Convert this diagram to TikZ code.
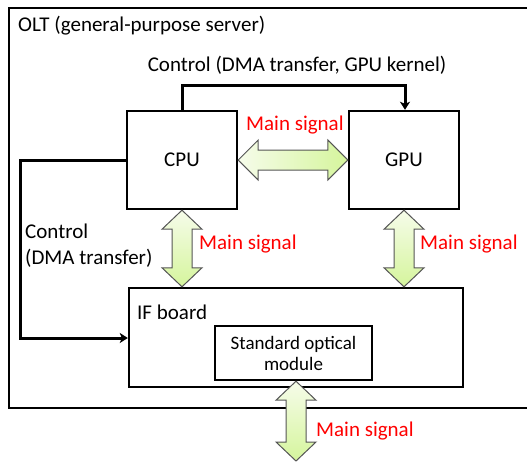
\documentclass[tikz,border=0pt]{standalone}
\usepackage{fontspec}
\setmainfont{Carlito}
\usetikzlibrary{arrows.meta,calc}
\definecolor{sigA}{HTML}{F6FCEA}
\definecolor{sigB}{HTML}{D5F59C}
\definecolor{sigline}{HTML}{555555}
\begin{document}
\begin{tikzpicture}[x=1pt,y=-1pt,
  box/.style={draw=black,line width=2.4pt,minimum width=110pt,minimum height=98pt,inner sep=0pt,font=\fontsize{21}{25}\selectfont},
  ctrl/.style={line width=3pt,-{Stealth[length=8pt,width=10pt,inset=2pt]}},
  sigh/.style={draw=sigline,line width=1pt,left color=sigA,right color=sigB},
  sigv/.style={draw=sigline,line width=1pt,top color=sigA,bottom color=sigB},
  lbl/.style={font=\fontsize{21}{25}\selectfont,inner sep=0pt},
  redlbl/.style={lbl,text=red,anchor=west}]
\useasboundingbox (0,0) rectangle (527,461);
% outer box
\draw[line width=2.4pt] (540,8) -- (9,8) -- (9,408) -- (540,408);
\node[lbl,anchor=west] (olt) at (18,26) {OLT (general-purpose server)};
% boxes
\node[box] (cpu) at (182,160) {CPU};
\node[box] (gpu) at (404,160) {GPU};
\node[draw=black,line width=2.4pt,minimum width=334pt,minimum height=99pt,inner sep=0pt] (ifb) at (296,337.5) {};
\node[lbl,anchor=west] (iflbl) at (137,312) {IF board};
\node[draw=black,line width=2.4pt,minimum width=157pt,minimum height=54pt,inner sep=0pt,align=center,font=\fontsize{19}{21}\selectfont] (mod) at (293.5,353) {Standard optical\\module};
% control arrows
\node[lbl] (ctl1) at (297,65) {Control (DMA transfer, GPU kernel)};
\draw[ctrl] (cpu.north) -- ++(0,-24) -| (gpu.north -| 405,0);
\node[lbl,anchor=west,align=left,font=\fontsize{21}{26}\selectfont] (ctl2) at (25,246) {Control\\(DMA transfer)};
\draw[ctrl] (cpu.west) -- (20,160) |- (ifb.west |- 0,338);
% signal arrows
\draw[sigh] (cpu.east) -- ++(20,-20) -- ++(0,10) -- ($(gpu.west)+(-20,-10)$) -- ++(0,-10) -- (gpu.west) -- ++(-20,20) -- ++(0,-10) -- ($(cpu.east)+(20,10)$) -- ++(0,10) -- cycle;
\node[redlbl] (m1) at (246,125) {Main signal};
\draw[sigv] (cpu.south) -- ++(20,19) -- ++(-10,0) -- ($(ifb.north -| cpu.south)+(10,-19)$) -- ++(10,0) -- (ifb.north -| cpu.south) -- ++(-20,-19) -- ++(10,0) -- ($(cpu.south)+(-10,19)$) -- ++(-10,0) -- cycle;
\node[redlbl] (m2) at (199,244) {Main signal};
\draw[sigv] (gpu.south) -- ++(20,19) -- ++(-10,0) -- ($(ifb.north -| gpu.south)+(10,-19)$) -- ++(10,0) -- (ifb.north -| gpu.south) -- ++(-20,-19) -- ++(10,0) -- ($(gpu.south)+(-10,19)$) -- ++(-10,0) -- cycle;
\node[redlbl] (m3) at (420,244) {Main signal};
\coordinate (outend) at (296,461);
\draw[sigv] (mod.south -| outend) -- ++(20,19) -- ++(-10,0) -- ($(outend)+(10,-19)$) -- ++(10,0) -- (outend) -- ++(-20,-19) -- ++(10,0) -- ($(mod.south -| outend)+(-10,19)$) -- ++(-10,0) -- cycle;
\node[redlbl] (m4) at (316,431) {Main signal};
\end{tikzpicture}
\end{document}
